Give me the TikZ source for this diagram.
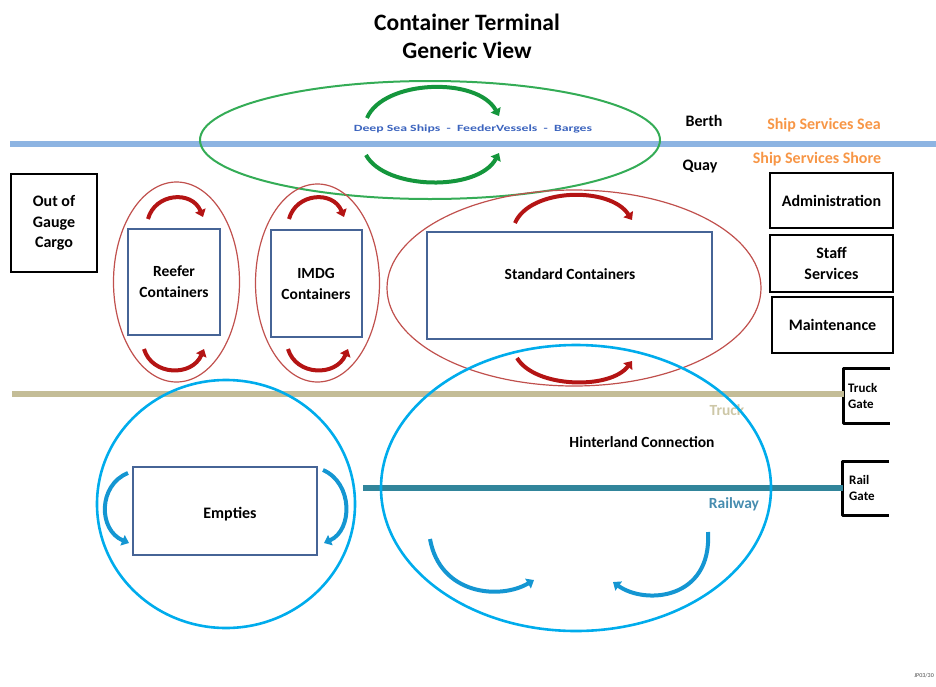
\documentclass[tikz,border=0pt]{standalone}
\usepackage{fontspec}
\setmainfont{Carlito}
\usetikzlibrary{arrows.meta}
\definecolor{seablue}{RGB}{141,180,226}
\definecolor{truckline}{RGB}{196,189,151}
\definecolor{railline}{RGB}{49,133,155}
\definecolor{raillabel}{RGB}{70,140,175}
\definecolor{shipgreen}{RGB}{52,172,86}
\definecolor{arrgreen}{RGB}{20,150,60}
\definecolor{zonered}{RGB}{192,80,77}
\definecolor{arrred}{RGB}{180,20,20}
\definecolor{zonecyan}{RGB}{0,172,236}
\definecolor{arrcyan}{RGB}{20,150,210}
\definecolor{boxblue}{RGB}{70,100,150}
\definecolor{svcorange}{RGB}{247,150,70}
\definecolor{vesselblue}{RGB}{60,100,190}
\tikzset{
  lbl/.style={font=\bfseries, align=center, inner sep=0pt},
  zonebox/.style={draw=boxblue, line width=1.3pt, fill=white, inner sep=0pt},
  blackbox/.style={draw=black, line width=2.6pt, inner sep=0pt, font=\bfseries\fontsize{16}{20}\selectfont, align=center},
  redzone/.style={draw=zonered, line width=1.2pt},
  cyanzone/.style={draw=zonecyan, line width=2.6pt},
  redarr/.style={draw=arrred, line width=4pt, -{Triangle[length=7pt,width=11pt]}},
  greenarr/.style={draw=arrgreen, line width=4pt, -{Triangle[length=7pt,width=11pt]}},
  cyanarr/.style={draw=arrcyan, line width=4pt, -{Triangle[length=7pt,width=11pt]}},
  gatelbl/.style={inner sep=0pt, minimum width=46pt, minimum height=54pt},
  gatetext/.style={font=\bfseries\fontsize{13}{16.5}\selectfont, align=left, inner sep=0pt, anchor=west},
  sidelbl/.style={lbl, font=\bfseries\fontsize{16}{18}\selectfont},
}
\begin{document}
\begin{tikzpicture}[x=1pt,y=-1pt]
\useasboundingbox (0,0) rectangle (936,686);

% title
\node[lbl, font=\bfseries\fontsize{23.5}{28}\selectfont] (title) at (467,36) {Container Terminal\\Generic View};

% gates at the right edge
\node[gatelbl] (tg) at (867,396) {};
\node[gatelbl] (rg) at (866,488.5) {};
\node[gatetext] (tgt) at (848,396) {Truck\\Gate};
\node[gatetext] (rgt) at (849,488) {Rail\\Gate};
\draw[line width=3pt, line join=round] (tg.north east) -- (tg.north west) -- (tg.south west) -- (tg.south east);
\draw[line width=3pt, line join=round] (rg.north east) -- (rg.north west) -- (rg.south west) -- (rg.south east);

% sea, truck and rail lines
\coordinate (seaW) at (10,144);
\coordinate (seaE) at (936,144);
\coordinate (truckW) at (12,394);
\coordinate (railW) at (363,488);
\draw[seablue, line width=6pt] (seaW) -- (seaE);
\draw[truckline, line width=6pt] (truckW) -- (truckW -| tg.west);
\draw[railline, line width=6pt] (railW) -- (railW -| rg.west);
\node[text=truckline!85, font=\bfseries\fontsize{15.5}{17}\selectfont] (trucklbl) at (727,410) {Truck};
\node[text=raillabel, font=\bfseries\fontsize{15.5}{17}\selectfont] (raillbl) at (734,504) {Railway};

% ship zone
\draw[shipgreen, line width=2pt] (430,140) ellipse [x radius=230, y radius=59];
\draw[greenarr] (367,118) .. controls (383,80) and (477,76) .. (499,116);
\draw[greenarr] (366,155) .. controls (385,190) and (478,192) .. (499,153);
\node[text=vesselblue, font=\bfseries\fontsize{9.5}{11}\selectfont] (vessels) at (473,129) {\scalebox{1.45}[1]{Deep Sea Ships\ \ -\ \ FeederVessels\ \ -\ \ Barges}};
\node[sidelbl] (berth) at (704,121) {Berth};
\node[sidelbl] (quay) at (700,167) {Quay};
\node[sidelbl, text=svcorange] (sea) at (824,125) {Ship Services Sea};
\node[sidelbl, text=svcorange] (shore) at (817,159) {Ship Services Shore};

% out of gauge cargo
\node[blackbox, minimum width=86pt, minimum height=98pt, font=\bfseries\fontsize{16}{20.5}\selectfont] (oog) at (54,223) {Out of\\Gauge\\Cargo};

% reefer
\draw[redzone] (176.5,282) ellipse [x radius=63, y radius=100];
\node[zonebox, minimum width=92pt, minimum height=106pt] (reefer) at (174,282) {};
\node[lbl, font=\bfseries\fontsize{15.5}{21}\selectfont] (reefert) at (174,282) {Reefer\\Containers};
\draw[redarr] (148,219) .. controls (155,193) and (192,190) .. (203,217);
\draw[redarr] (144,349) .. controls (152,376) and (192,377) .. (204,349);

% IMDG
\draw[redzone] (317.5,283) ellipse [x radius=62, y radius=99];
\node[zonebox, minimum width=91pt, minimum height=107pt] (imdg) at (316.5,283.5) {};
\node[lbl, font=\bfseries\fontsize{15.5}{21}\selectfont] (imdgt) at (316,284) {IMDG\\Containers};
\draw[redarr] (289,219) .. controls (296,193) and (333,190) .. (344,217);
\draw[redarr] (288,349) .. controls (296,376) and (336,377) .. (348,349);

% standard containers
\draw[redzone] (574,288) ellipse [x radius=187, y radius=98];
\node[zonebox, minimum width=285pt, minimum height=107pt] (std) at (569.5,285.5) {};
\node[lbl, font=\bfseries\fontsize{15.5}{17}\selectfont] (stdt) at (570,274) {Standard Containers};
\draw[redarr] (515,223) .. controls (530,188) and (610,186) .. (632,220);
\draw[redarr] (517,358) .. controls (535,388) and (610,390) .. (632,361);

% support services
\node[blackbox, minimum width=123pt, minimum height=55pt] (admin) at (831.5,200.5) {Administration};
\node[blackbox, minimum width=123pt, minimum height=57pt, font=\bfseries\fontsize{16}{21}\selectfont] (staff) at (831.5,263.5) {Staff\\Services};
\node[blackbox, minimum width=121pt, minimum height=56pt] (maint) at (832.5,325) {Maintenance};

% empties
\draw[cyanzone] (226,504) ellipse [x radius=129, y radius=124];
\node[zonebox, minimum width=184pt, minimum height=88pt] (empties) at (225,511) {};
\node[lbl, font=\bfseries\fontsize{16}{18}\selectfont] (emptiest) at (230,514) {Empties};
\draw[cyanarr] (128,473) .. controls (98,485) and (98,530) .. (129,543);
\draw[cyanarr] (323,470) .. controls (353,483) and (353,530) .. (324,543);

% hinterland connection
\draw[cyanzone] (576,488) ellipse [x radius=195, y radius=143];
\node[lbl, font=\bfseries\fontsize{15.5}{17}\selectfont] (hinter) at (642,442) {Hinterland Connection};
\draw[cyanarr] (430,539) .. controls (440,595) and (500,600) .. (534,580);
\draw[cyanarr] (708,532) .. controls (712,600) and (645,605) .. (613,582);

% reference code
\node[text=black!70, font=\fontsize{6}{7}\selectfont, anchor=east, inner sep=0pt] (ref) at (934,676) {JP03/30};
\end{tikzpicture}
\end{document}
